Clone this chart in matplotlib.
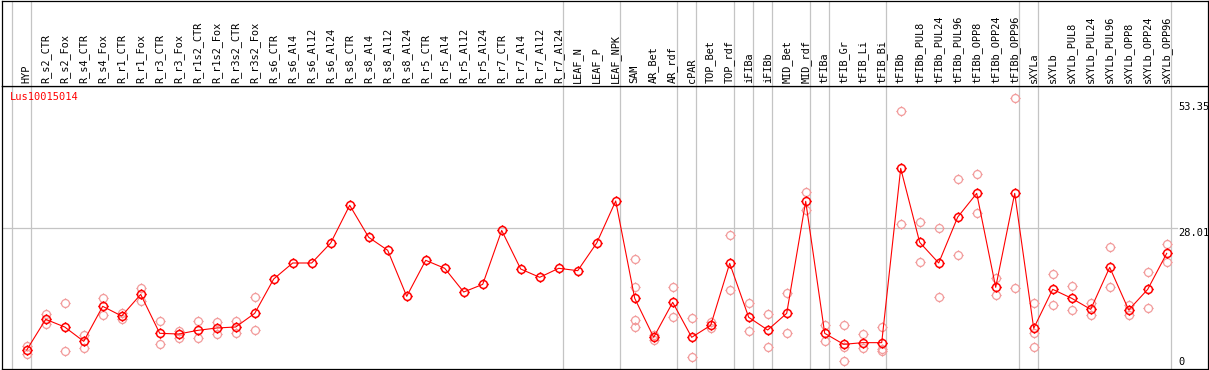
import matplotlib
matplotlib.use("Agg")
import matplotlib.pyplot as plt
from matplotlib.path import Path
import numpy as np

# ---------------- data ----------------
title = "Lus10015014"

categories = [
    "HYP", "R_s2_CTR", "R_s2_Fox", "R_s4_CTR", "R_s4_Fox", "R_r1_CTR", "R_r1_Fox",
    "R_r3_CTR", "R_r3_Fox", "R_r1s2_CTR", "R_r1s2_Fox", "R_r3s2_CTR", "R_r3s2_Fox",
    "R_s6_CTR", "R_s6_Al4", "R_s6_Al12", "R_s6_Al24", "R_s8_CTR", "R_s8_Al4",
    "R_s8_Al12", "R_s8_Al24", "R_r5_CTR", "R_r5_Al4", "R_r5_Al12", "R_r5_Al24",
    "R_r7_CTR", "R_r7_Al4", "R_r7_Al12", "R_r7_Al24", "LEAF_N", "LEAF_P", "LEAF_NPK",
    "SAM", "AR_Bet", "AR_rdf", "cPAR", "TOP_Bet", "TOP_rdf", "iFIBa", "iFIBb",
    "MID_Bet", "MID_rdf", "tFIBa", "tFIB_Gr", "tFIB_Li", "tFIB_Bi", "tFIBb",
    "tFIBb_PUL8", "tFIBb_PUL24", "tFIBb_PUL96", "tFIBb_OPP8", "tFIBb_OPP24",
    "tFIBb_OPP96", "sXYLa", "sXYLb", "sXYLb_PUL8", "sXYLb_PUL24", "sXYLb_PUL96",
    "sXYLb_OPP8", "sXYLb_OPP24", "sXYLb_OPP96",
]

mean_values = [
    2.45, 8.88, 7.27, 4.27, 11.6, 9.57, 14.1, 5.95, 5.80, 6.57, 7.06, 7.27, 10.13,
    17.33, 20.68, 20.68, 24.87, 32.77, 26.06, 23.34, 13.70, 21.24, 19.57, 14.6, 16.2,
    27.5, 19.42, 17.68, 19.57, 19.07, 24.87, 33.67,
    13.28, 5.11, 12.44, 5.11, 7.62, 20.6, 9.30, 6.64, 10.13, 33.6, 5.95, 3.64, 3.99,
    3.99, 40.5, 25.0, 20.68, 30.3, 35.27, 15.58, 35.27, 6.99, 15.16, 13.28, 10.97,
    19.77, 10.83, 15.16, 22.7,
]

replicates = [
    [3.36, 1.54], [9.92, 7.90], [12.23, 2.31], [5.59, 2.94], [13.28, 9.85],
    [10.27, 8.88], [15.37, 12.79], [8.46, 3.64], [6.43, 5.03], [8.46, 4.90],
    [8.25, 5.80], [8.53, 6.08], [13.49, 6.57],
    [], [], [], [], [], [], [], [], [], [], [], [], [], [], [], [], [], [], [],
    [21.45, 15.72, 8.74, 7.34], [5.59, 4.55], [15.72, 9.30], [9.16, 1.05],
    [8.39, 6.99], [26.48, 14.95], [12.23, 6.36], [9.92, 3.01], [14.32, 5.94],
    [35.48, 31.78], [7.62, 4.27], [7.62, 3.15, 0.08], [5.73, 2.80],
    [7.27, 2.59, 2.31], [52.46, 28.78], [29.2, 20.82], [27.94, 13.49],
    [38.21, 22.29], [39.39, 31.09], [17.47, 13.91], [55.18, 15.37],
    [12.23, 5.94, 3.01], [18.3, 11.81], [15.79, 10.76], [12.23, 9.71],
    [23.96, 15.58], [11.81, 9.85], [18.72, 11.32], [24.59, 20.82],
]

# group separators are drawn after these category indices
group_ends = [-1, 0, 28, 31, 34, 35, 37, 38, 39, 41, 42, 45, 52, 53, 60]

axis_labels = ["0", "28.01", "53.35"]
axis_values = [0.0, 28.01, 53.35]

# ---------------- layout ----------------
W, H = 1209, 370
fig = plt.figure(figsize=(W / 100, H / 100), dpi=100)

X0, STEP = 26.7, 19.0           # pixel position of first category, spacing
def px_to_i(px):
    return (px - X0) / STEP

left_px, right_px = 1.5, 1207.5
header_bottom_px = 86.0
bottom_px = 369.0
xl = (px_to_i(left_px), px_to_i(right_px))

# value -> pixel mapping from reference: y = 361.7 - v*4.773
K, Y0 = 4.773, 361.7
ylim = ((Y0 - bottom_px) / K, (Y0 - header_bottom_px) / K)

ax = fig.add_axes([left_px / W, (H - bottom_px) / H,
                   (right_px - left_px) / W, (bottom_px - header_bottom_px) / H])
hx = fig.add_axes([left_px / W, (H - header_bottom_px) / H,
                   (right_px - left_px) / W, (header_bottom_px - 0.5) / H])

grey = "#c4c4c4"
for a in (ax, hx):
    a.set_xlim(*xl)
    a.set_xticks([])
    a.set_yticks([])
    for s in a.spines.values():
        s.set_linewidth(0.9)
        s.set_color("black")
    for g in group_ends:
        a.axvline(g + 4.0 / STEP, color=grey, lw=0.9, zorder=0)
ax.set_ylim(*ylim)
hx.set_ylim(0, 1)
ax.set_facecolor("white")
hx.set_facecolor("white")

# horizontal reference line
line_end_px = 1177
ax.axhline(axis_values[1], xmin=0, xmax=(line_end_px - left_px) / (right_px - left_px),
           color=grey, lw=0.9, zorder=0)

# header labels
mono = "DejaVu Sans Mono"
for i, c in enumerate(categories):
    hx.text(i, 3.0 / header_bottom_px, c, rotation=90, ha="center", va="bottom",
            fontsize=7.4, family=mono, color="black")

# marker: circle with small spikes
circ = Path.unit_circle()
spikes = []
for ang in np.deg2rad([0, 90, 180, 270]):
    dx, dy = np.cos(ang), np.sin(ang)
    spikes.append(Path([[dx, dy], [1.3 * dx, 1.3 * dy]], [Path.MOVETO, Path.LINETO]))
marker_path = Path.make_compound_path(circ, *spikes)

xs = np.arange(len(categories))
pink = "#f29c9c"
for i, reps in enumerate(replicates):
    if reps:
        ax.plot([i] * len(reps), reps, linestyle="none", marker=marker_path,
                ms=7.4, mfc="none", mec=pink, mew=0.9, zorder=2, clip_on=False)

ax.plot(xs, mean_values, color="red", lw=0.8, marker=marker_path, ms=7.4,
        mfc="none", mec="red", mew=1.1, zorder=3)

# value labels on the right
lab_x = px_to_i(1178)
ax.text(lab_x, axis_values[2], axis_labels[2], ha="left", va="center",
        fontsize=7.5, family=mono)
ax.text(lab_x, axis_values[1], axis_labels[1], ha="left", va="top",
        fontsize=7.5, family=mono)
ax.text(lab_x, axis_values[0], axis_labels[0], ha="left", va="center",
        fontsize=7.5, family=mono)

# gene title
fig.text(10 / W, 1 - 97 / H, title, color="red", ha="left", va="center",
         fontsize=7.5, family=mono)

fig.savefig("out.png", dpi=100)
